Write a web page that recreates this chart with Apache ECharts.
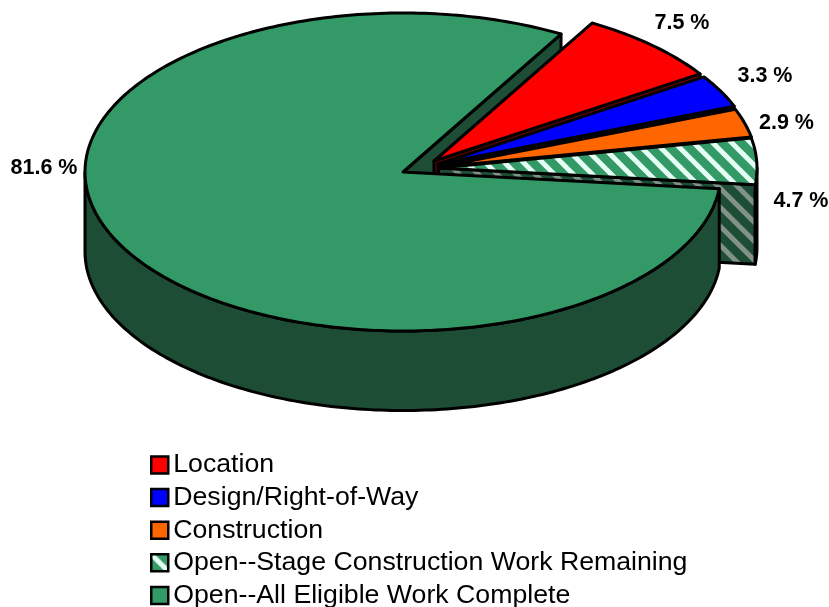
<!DOCTYPE html>
<html>
<head>
<meta charset="utf-8">
<script src="https://cdn.jsdelivr.net/npm/echarts@6/dist/echarts.min.js"></script>
<style>
html, body { margin: 0; padding: 0; background: #fff; }
#main { width: 829px; height: 607px; }
</style>
</head>
<body>
<div id="main"></div>
<script>
var categories = ['Location', 'Design/Right-of-Way', 'Construction', 'Open--Stage Construction Work Remaining', 'Open--All Eligible Work Complete'];
var shares = [7.5, 3.3, 2.9, 4.7, 81.6];

// layout of the tilted pie
var rx = 318, ry = 159, depth = 79.5, startAngle = 60.2;
var centers = [[434, 161], [438, 164], [439, 167], [439, 168], [403, 172]];
var labelAt = [[682, 23], [765, 76], [786.5, 123], [801, 201], [44, 168]];
var tops = ['#ff0000', '#0000ff', '#ff6600', null, '#339966'];
var sides = ['#800000', '#000080', '#803300', null, '#1d4d35'];
var FONT = '"Liberation Sans", Arial, sans-serif';

function stripes(base, stripe) {
    var c = document.createElement('canvas');
    c.width = 19; c.height = 19;
    var g = c.getContext('2d');
    g.fillStyle = base;
    g.fillRect(0, 0, 19, 19);
    g.strokeStyle = stripe;
    g.lineWidth = 5;
    [-19, 0, 19].forEach(function (o) {
        g.beginPath();
        g.moveTo(o - 2, -2);
        g.lineTo(o + 21, 21);
        g.stroke();
    });
    return c;
}
var hatchTop = { image: stripes('#339966', '#e6fff5'), repeat: 'repeat' };
var hatchSide = { image: stripes('#1d4d35', '#82928a'), repeat: 'repeat' };
tops[3] = hatchTop;
sides[3] = hatchSide;

function arc(c, from, to, dy) {
    var pts = [], n = Math.max(2, Math.ceil(Math.abs(to - from)));
    for (var i = 0; i <= n; i++) {
        var t = (from + (to - from) * i / n) * Math.PI / 180;
        pts.push([c[0] + rx * Math.cos(t), c[1] - ry * Math.sin(t) + (dy || 0)]);
    }
    return pts;
}
function poly(points, fill, z2) {
    return {
        type: 'polygon', z2: z2, shape: { points: points },
        style: { fill: fill, stroke: '#000', lineWidth: 3, lineJoin: 'round' }
    };
}
function radialWall(c, t, fill, z2) {
    var p = arc(c, t, t + 1)[0];
    return poly([c, p, [p[0], p[1] + depth], [c[0], c[1] + depth]], fill, z2);
}

function sliceItem(i) {
    return function (params, api) {
        var before = 0;
        for (var k = 0; k < i; k++) before += shares[k];
        var from = startAngle - before * 3.6;
        var to = from - api.value(0) * 3.6;
        var c = centers[i];
        var z = (i + 1) * 10;
        var kids = [];
        if (i === 4) {
            // the cut face behind the exploded slices goes under everything
            kids.push(radialWall(c, to, sides[i], 1));
            kids.push(poly(arc(c, from, -180).concat(arc(c, -180, from, depth)), sides[i], z));
        } else {
            kids.push(radialWall(c, to, sides[i], z));
            if (to < 0) {
                kids.push(poly(arc(c, Math.min(from, 0), to).concat(arc(c, to, Math.min(from, 0), depth)), sides[i], z));
            }
        }
        kids.push(poly([c].concat(arc(c, from, to)), tops[i], z + 1));
        kids.push({
            type: 'text', z2: 100,
            style: {
                text: api.value(0).toFixed(1) + ' %',
                x: labelAt[i][0], y: labelAt[i][1],
                align: 'center', verticalAlign: 'middle',
                font: 'bold 21.5px ' + FONT, fill: '#000'
            }
        });
        return { type: 'group', children: kids };
    };
}

var chart = echarts.init(document.getElementById('main'));
chart.setOption({
    backgroundColor: '#fff',
    animation: false,
    legend: {
        orient: 'vertical', left: 145, top: 446, height: 300,
        itemWidth: 17, itemHeight: 17, itemGap: 4.6,
        selectedMode: false,
        textStyle: { fontFamily: FONT, fontSize: 26.7, color: '#000', lineHeight: 28 },
        data: categories.map(function (name, i) {
            return {
                name: name, icon: 'rect',
                itemStyle: { color: tops[i], borderColor: '#000', borderWidth: 2.5 }
            };
        })
    },
    series: categories.map(function (name, i) {
        return {
            type: 'custom', name: name, coordinateSystem: 'none', silent: true,
            itemStyle: { color: tops[i] },
            renderItem: sliceItem(i),
            data: [[shares[i]]]
        };
    })
});
</script>
</body>
</html>
